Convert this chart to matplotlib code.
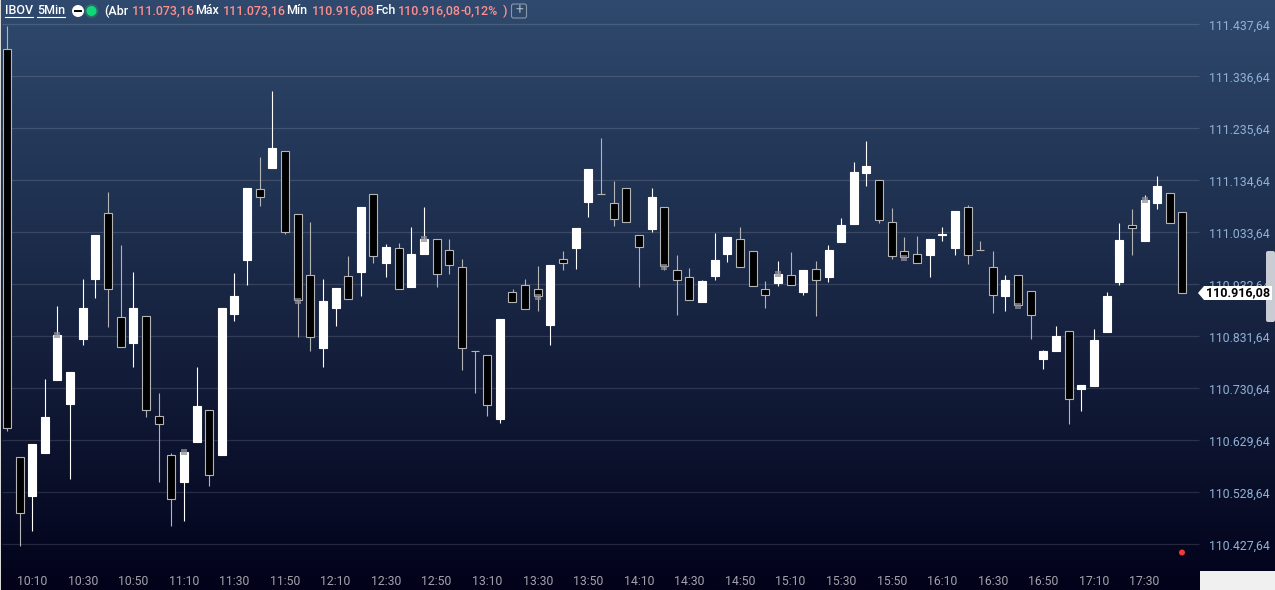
import matplotlib
matplotlib.use('Agg')
import matplotlib.pyplot as plt
from matplotlib.colors import LinearSegmentedColormap
from matplotlib.patches import Rectangle, Circle, Polygon, FancyBboxPatch
import numpy as np

plt.rcParams['font.family'] = ['Roboto', 'DejaVu Sans']

# Candles, one per 5 minutes starting 10:00
opens = [111389.2, 110596.8, 110522.2, 110605.7, 110747.5, 110700.9, 110827.1, 110943.7, 111070.7, 110868.7,
         110819.4, 110870.6, 110676.4, 110600.7, 110549.4, 110627.1, 110688.1, 110601.8, 110875.7, 110980.6,
         111117.3, 111159.3, 111191.1, 111068.8, 110950.3, 110809.7, 110887.4, 110948.3, 110957.3, 111107.6,
         110974.8, 111002.7, 110928.1, 110992.2, 111020.2, 110998.8, 110965.8, 110802.7, 110794.9, 110671.8,
         110917.3, 110930.9, 110923.1, 110854.3, 110981.4, 111003.9, 111093.2, 111107.6, 111090.1, 111119.3,
         111028.0, 111040.8, 111082.4, 110960.0, 110946.4, 110899.0, 110949.5, 110992.2, 111020.2, 110996.9,
         110923.1, 110935.9, 110950.3, 110918.4, 110961.9, 110947.6, 111015.5, 111050.5, 111149.6, 111134.8,
         111053.2, 110996.9, 110991.1, 110990.3, 111028.6, 111003.9, 111082.4, 110998.8, 110965.8, 110910.7,
         110950.3, 110919.2, 110788.3, 110803.8, 110841.5, 110730.0, 110735.9, 110840.7, 110937.9, 111047.4,
         111017.5, 111091.3, 111109.6, 111073.16]
highs = [111434.5, 110596.8, 110622.6, 110748.9, 110890.7, 110762.5, 110943.1, 111028.6, 111112.1, 111009.1,
         110956.7, 110870.6, 110721.7, 110604.6, 110607.1, 110772.2, 110688.1, 110886.8, 110954.8, 111119.8,
         111180.1, 111308.2, 111191.1, 111068.8, 111053.8, 110943.1, 110925.6, 110987.8, 111082.9, 111107.6,
         111011.1, 111013.0, 111044.1, 111082.9, 111020.2, 111020.8, 110982.0, 110802.7, 110794.9, 110865.4,
         110923.7, 110943.1, 110968.3, 110970.3, 110997.5, 111042.2, 111156.8, 111217.0, 111133.4, 111119.3,
         111028.0, 111119.8, 111082.4, 110989.7, 110964.5, 110941.2, 111032.4, 111024.7, 111044.1, 110996.9,
         110939.2, 110978.1, 110995.5, 110960.6, 110978.1, 111009.1, 111061.6, 111170.3, 111211.1, 111134.8,
         111081.0, 111024.7, 111026.6, 111020.8, 111044.1, 111075.2, 111086.8, 111016.9, 110997.5, 110950.9,
         110950.3, 110919.2, 110805.2, 110851.8, 110841.5, 110737.2, 110846.0, 110917.8, 111051.9, 111079.1,
         111106.3, 111143.2, 111109.6, 111073.16]
lows = [110648.5, 110425.1, 110454.2, 110605.7, 110747.5, 110555.2, 110815.5, 110906.8, 110850.5, 110810.4,
        110772.7, 110675.6, 110549.4, 110464.0, 110473.7, 110627.1, 110541.6, 110601.8, 110862.1, 110932.0,
        111085.5, 111159.3, 111031.1, 110831.0, 110803.8, 110772.7, 110852.4, 110903.7, 110910.7, 110974.8,
        110947.6, 110923.1, 110928.1, 110992.2, 110928.1, 110953.4, 110766.9, 110722.3, 110677.6, 110664.0,
        110897.8, 110884.2, 110881.5, 110815.5, 110961.2, 110963.1, 111064.1, 111107.6, 111046.6, 111053.2,
        110928.1, 111035.0, 110961.2, 110873.8, 110901.7, 110899.0, 110941.7, 110976.7, 110965.8, 110928.9,
        110887.4, 110930.1, 110930.9, 110912.6, 110871.8, 110937.9, 111015.5, 111050.5, 111124.3, 111052.4,
        110982.5, 110985.2, 110974.8, 110947.6, 111017.5, 110990.3, 110972.8, 110998.8, 110877.6, 110881.5,
        110892.0, 110827.1, 110768.9, 110803.8, 110662.0, 110687.3, 110735.9, 110840.7, 110932.0, 110990.3,
        111017.5, 111079.6, 111051.3, 110916.08]
closes = [110653.1, 110488.0, 110622.6, 110675.1, 110834.3, 110762.5, 110886.8, 111028.6, 110923.1, 110810.4,
          110886.8, 110688.1, 110662.0, 110515.2, 110607.1, 110696.4, 110561.8, 110886.8, 110910.1, 111119.8,
          111101.8, 111197.5, 111033.8, 110901.7, 110829.9, 110900.4, 110925.6, 110903.7, 111082.9, 110987.2,
          111005.3, 110923.1, 110991.7, 111020.8, 110952.2, 110969.7, 110808.5, 110802.7, 110697.8, 110865.4,
          110897.8, 110884.2, 110909.5, 110970.3, 110974.8, 111042.2, 111156.8, 111107.6, 111060.2, 111053.2,
          111005.8, 111102.4, 110967.8, 110940.6, 110901.7, 110939.2, 110980.0, 111024.7, 110965.8, 110928.9,
          110911.4, 110952.8, 110930.9, 110960.6, 110941.7, 110999.4, 111048.0, 111150.9, 111162.6, 111058.3,
          110988.4, 110985.2, 110974.8, 111020.8, 111029.6, 111075.2, 110990.3, 110998.8, 110911.4, 110941.2,
          110892.0, 110872.6, 110803.3, 110832.4, 110709.4, 110737.2, 110824.6, 110910.1, 111018.8, 111041.6,
          111096.5, 111123.7, 111051.3, 110916.08]

# Grey squares drawn on some candles
mark_idx = [4, 14, 23, 33, 42, 52, 61, 71, 80, 90]
mark_price = [110834.3, 110607.1, 110900.4, 111020.8, 110908.1, 110966.4, 110952.8, 110983.9, 110890.7, 111096.5]

price_ticks = [111437.64, 111336.64, 111235.64, 111134.64, 111033.64, 110932.64,
               110831.64, 110730.64, 110629.64, 110528.64, 110427.64]
price_labels = ['111.437,64', '111.336,64', '111.235,64', '111.134,64', '111.033,64', '110.932,64',
                '110.831,64', '110.730,64', '110.629,64', '110.528,64', '110.427,64']
time_idx = list(range(2, 91, 4))
time_labels = ['10:10', '10:30', '10:50', '11:10', '11:30', '11:50', '12:10', '12:30', '12:50', '13:10', '13:30',
               '13:50', '14:10', '14:30', '14:50', '15:10', '15:30', '15:50', '16:10', '16:30', '16:50', '17:10', '17:30']
last_label = '110.916,08'

W, H = 1275, 590
fig = plt.figure(figsize=(W / 100, H / 100), dpi=100)
ax = fig.add_axes([0, 0, 1, 1])

# price/index limits chosen so the whole figure is the plot area
step = 12.64
x0 = 6.9
xlim = (-x0 / step, (W - x0) / step)
ylim = (111485.03 - 1.9423 * H, 111485.03)

cmap = LinearSegmentedColormap.from_list('bg', ['#2f4a6e', '#02021a'])
ax.imshow(np.linspace(0, 1, 256).reshape(-1, 1), cmap=cmap, aspect='auto', zorder=0,
          extent=(xlim[0], xlim[1], ylim[0], ylim[1]))

ax.hlines(price_ticks, xlim[0] + 2 / step, (1199 - x0) / step, color='white', alpha=0.13, linewidth=0.9, zorder=1)

idx = np.arange(len(opens))
o = np.array(opens)
c = np.array(closes)
up = c > o

ax.vlines(idx[up], np.array(lows)[up], np.array(highs)[up], color='white', linewidth=0.8, zorder=2)
ax.vlines(idx[~up], np.array(lows)[~up], np.array(highs)[~up], color='#b4b4b4', linewidth=0.8, zorder=2)

body_w = 8 / step
ax.bar(idx[up], (c - o)[up], bottom=o[up], width=body_w, color='white', edgecolor='white', linewidth=0.8, zorder=3)
ax.bar(idx[~up], (c - o)[~up], bottom=o[~up], width=body_w, color='black', edgecolor='#b4b4b4', linewidth=0.8, zorder=3)

ax.scatter(mark_idx, mark_price, marker='s', s=19, color='#909098', alpha=0.75, linewidths=0, zorder=4)

ax.set_xlim(*xlim)
ax.set_ylim(*ylim)
for s in ax.spines.values():
    s.set_visible(False)

ax.yaxis.tick_right()
ax.set_yticks(price_ticks, price_labels)
ax.tick_params(axis='y', length=0, pad=-3.6, labelsize=8.8, labelcolor='#8fb2d8')
for t in ax.get_yticklabels():
    t.set_ha('right')
    t.set_va('center_baseline')
ax.set_xticks(time_idx, time_labels)
ax.tick_params(axis='x', length=0, pad=-10.5, labelsize=8.8, labelcolor='#a3a3ab')

# header, tag and scrollbar in pixel coordinates
ui = fig.add_axes([0, 0, 1, 1], facecolor='none')
ui.set_xlim(0, W)
ui.set_ylim(H, 0)
ui.axis('off')

ui.add_patch(Rectangle((0, 0), 1.2, H, color='#d8d8d8', linewidth=0))
ui.add_patch(Rectangle((1200, 571), 75, 19, color='#f0f0f0', linewidth=0))
ui.add_patch(FancyBboxPatch((1266, 251), 9, 71, boxstyle='round,pad=0,rounding_size=2', color='#c9ccd3', linewidth=0))
ui.add_patch(Polygon([(1198, 293), (1204, 286), (1272, 286), (1272, 300), (1204, 300)], color='white', linewidth=0))
ui.text(1238, 293, last_label, ha='center', va='center', fontsize=9, fontweight='bold', color='black')
ui.add_patch(Circle((1182, 552.5), 3, color='#f03a3a', linewidth=0))

pink = '#ff8e8e'
head = [(5, 'IBOV', 'white'), (37, '5Min', 'white'), (104, '(Abr', 'white'), (132, '111.073,16', pink),
        (195, 'Máx', 'white'), (223, '111.073,16', pink), (286, 'Mín', 'white'), (312, '110.916,08', pink),
        (375, 'Fch', 'white'), (398, '110.916,08', pink), (461, '-0,12%', pink), (503, ')', pink)]
for hx, txt, col in head:
    ui.text(hx, 11, txt, ha='left', va='center', fontsize=9, color=col, fontweight='medium')
ui.plot([5, 33], [17, 17], color='white', linewidth=0.8)
ui.plot([37, 65], [17, 17], color='white', linewidth=0.8)

ui.add_patch(Circle((78, 11), 6, color='white', linewidth=0))
ui.plot([75, 81], [11, 11], color='black', linewidth=1.4)
ui.add_patch(Circle((91.5, 11), 7, color='#2d6a6a', linewidth=0))
ui.add_patch(Circle((91.5, 11), 5, color='#10d878', linewidth=0))
ui.add_patch(FancyBboxPatch((511.5, 4), 15, 14, boxstyle='round,pad=0,rounding_size=2', facecolor='none',
                            edgecolor='#8a97a8', linewidth=0.8))
ui.text(519, 10.5, '+', ha='center', va='center', fontsize=10, color='#a8b2c0')

fig.savefig('out.png', dpi=100)
